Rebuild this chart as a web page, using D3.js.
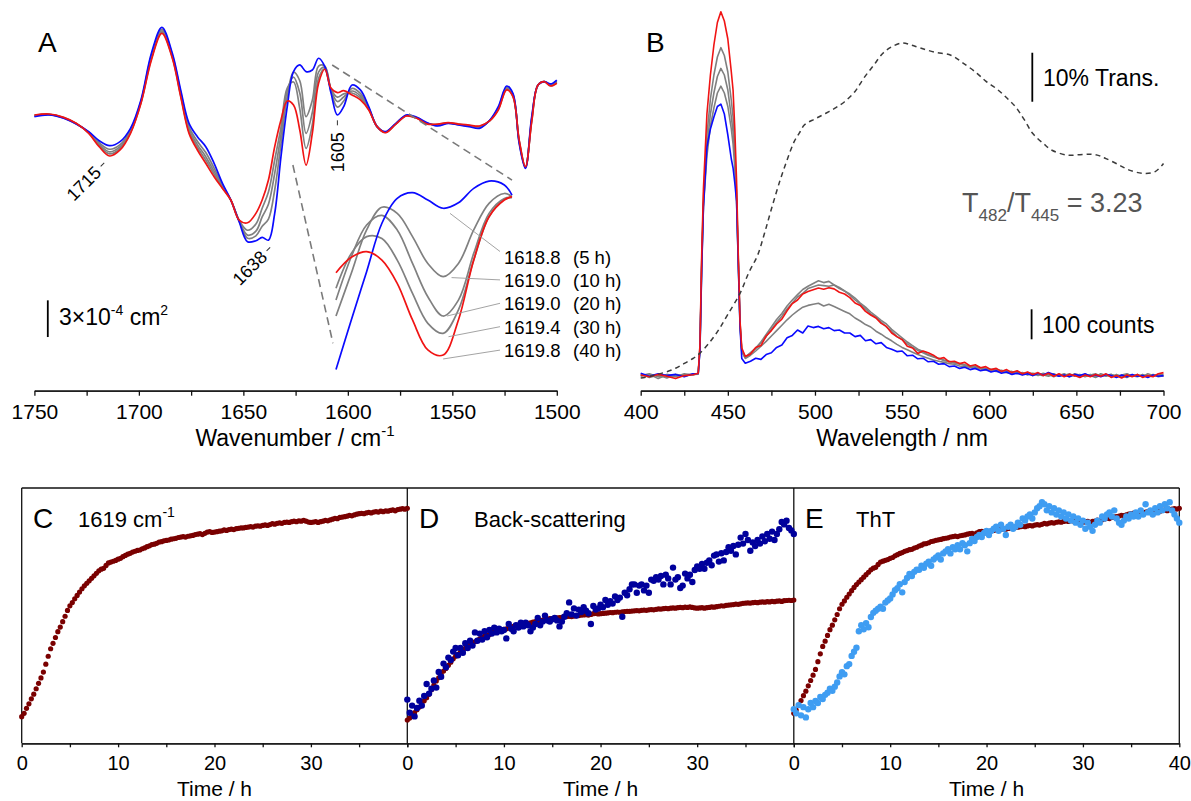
<!DOCTYPE html>
<html>
<head>
<meta charset="utf-8">
<script src="https://cdn.jsdelivr.net/npm/d3@7"></script>
<style>
  body { margin: 0; background: #fff; }
  svg { font-family: "Liberation Sans", Arial, sans-serif; }
</style>
</head>
<body>
<svg id="fig" width="1191" height="801"></svg>
<script>
// ---------- panel A : IR difference spectra (units of 1e-5 cm^2) ----------
const wnA = [1750,1743,1736,1730,1724,1719,1714,1709,1704,1699,1694,1689,1684,1680,1676,1672,1668,1664,1660,1656,
  1652,1648,1644,1641,1638,1635,1632,1629,1626,1623,1620,1617,1614,1611,1608,1605,1602,1598,1594,1590,
  1586,1582,1577,1572,1567,1562,1557,1552,1547,1542,1537,1532,1528,1524,1521,1518,1515,1512,1509,1506,1503,1500];
const abs5h = [-1.4,0,-2.7,-7.4,-13.6,-21.0,-25.1,-21.8,-10.9,12.3, 50.5,71.7,50.5,20.5,-6.8,-17.7,-25.9,-39.5,-55.9,-69.5,
  -87.3,-103.6,-102.8,-100.1,-102.3,-80.4,-34.1,6.8,35.5,40.9, 35.5,36.8,46.4,39.5,17.7,0,6.8,24.5,20.5,6.8,
  -9.5,-13.6,-6.8,0,-1.9,-6.3,-9.0,-6.8,-8.2,-9.5, -10.9,-4.1,6.8,23.7,17.7,-23.2,-43.6,-1.4,24.5,27.3, 25.4,28.6];
const abs10h = [-0.9,0.3,-2.4,-7.2,-14.1,-22.7,-28.0,-24.2,-12.3,11.3, 48.6,70.0,49.1,18.6,-9.7,-21.5,-30.7,-43.4,-57.3,-69.5,
  -86.8,-100.8,-98.8,-90.9,-85.1,-61.3,-23.6,15,35,28, -1.4,12,40,40,19.1,6.4,11.4,21.7,17.6,5.9,
  -9.5,-13.9,-7.0,-0.3,-2.2,-6.7,-8.4,-6.6,-7.9,-9.0, -10.2,-4.3,5.9,22.6,16.8,-22.3,-43.1,-2.8,24.5,27.3, 24.8,27.7];
const abs20h = [-0.6,0.5,-2.2,-7.0,-14.4,-23.9,-30.1,-25.9,-13.4,10.6, 47.2,68.8,48.0,17.2,-11.7,-24.2,-34.1,-46.1,-58.4,-69.5,
  -86.5,-98.2,-95.0,-83.3,-72.9,-47.7,-16.1,20,31,18, -15.0,2,35,39,20.2,11.0,14.7,19.6,15.6,5.2,
  -9.5,-14.1,-7.2,-0.5,-2.4,-7.0,-8.0,-6.5,-7.7,-8.7, -10.0,-4.4,5.2,21.8,16.1,-21.6,-42.8,-3.9,24.5,27.3, 24.4,27.0];
const abs30h = [-0.3,0.6,-2.1,-6.9,-14.7,-24.9,-31.8,-27.2,-14.2,10.1, 46.1,67.8,47.2,16.1,-13.4,-26.4,-36.8,-48.3,-59.2,-69.5,
  -86.2,-94.2,-89.1,-76.2,-63.0,-36.8,-10.1,22,27,5, -27.3,-8,30,38,21.0,14.6,17.3,18.0,13.9,4.6,
  -9.5,-14.3,-7.3,-0.6,-2.5,-7.2,-7.7,-6.4,-7.6,-8.5, -9.4,-4.5,4.6,21.1,15.5,-21.0,-42.6,-4.7,24.5,27.3, 24.0,26.4];
const abs40h = [0,0.8,-1.9,-6.8,-15.0,-25.9,-33.5,-28.6,-15.0,9.5, 45.0,66.8,46.4,15.0,-15.0,-28.6,-39.5,-50.5,-60.0,-69.5,
  -85.9,-88.1,-80.4,-69.5,-53.2,-25.9,-4.1,11.5,8.2,-12.3, -40.9,-15.0,25.9,37.4,21.8,18.3,19.9,16.4,12.3,4.1,
  -9.5,-14.5,-7.4,-0.8,-2.7,-7.4,-7.4,-6.3,-7.4,-8.2, -9.0,-4.6,4.1,20.5,15.0,-20.5,-42.3,-5.5,24.5,27.3, 23.7,25.9];

// inset (magnified 1633-1610 cm-1)
const wnInset = [1633,1631,1629,1627,1625,1623,1621,1619,1617,1615,1613,1611,1610];
const inset5h  = [-46.3,-21.2,3.3,27.9,40.5,43.4,39.7,35.5,38.3,45.6,49.3,47.3,42.2];
const inset10h = [-19.2,2.5,24.5,36.0,32.9,21.1,7.5,0.8,7.5,24.5,38.0,43.0,41.4];
const inset20h = [-11.1,10.9,27.0,31.9,24.5,7.5,-9.4,-19.2,-11.1,12.6,32.9,40.5,41.0];
const inset30h = [-5.1,12.6,21.1,20.2,9.2,-7.7,-22.9,-28.0,-16.1,9.2,31.2,40.0,41.0];
const inset40h = [2.8,10.6,13.5,9.2,-2.6,-21.2,-36.4,-39.0,-21.2,9.2,31.2,39.7,41.4];
const insetPeaks = ["1618.8", "1619.0", "1619.0", "1619.4", "1619.8"];
const insetTimes = ["(5 h)", "(10 h)", "(20 h)", "(30 h)", "(40 h)"];
const leaderWn = [1618.1, 1617.9, 1618.5, 1618.3, 1619.0];
const leaderVal = [32.9, 0.3, -19.2, -29.7, -41.0];
const bandLabels = ["1715", "1638", "1605"];
const bandWn = [1717.6, 1638.2, 1605.0];
const bandVal = [-40.9, -109.9, -6.8];
const bandAngle = [-45, -45, -90];
const ticksA = [1750, 1700, 1650, 1600, 1550, 1500];
const minorA = [1725, 1675, 1625, 1575, 1525];

// ---------- panel B : emission (counts) and transmittance (%) ----------
const wlEm = [400,405,410,415,420,425,430,433,434,435,436,438,440,442,444,446,448,450,452,453,454,455,456,457,458,460,
  463,466,469,472,475,478,481,484,487,490,493,496,499,502,505,508,511,514,517,520,523,526,529,532,535,538,541,544,547,550,
  553,556,559,562,565,568,571,574,577,580,583,586,589,592,595,598,601,604,607,610,613,616,619,622,625,628,631,634,637,640,
  643,646,649,652,655,658,661,664,667,670,673,676,679,682,685,688,691,694,697,700];
const em5h = [6,-4,4,-2,2,-6,4, 5,80,350,560,760,820,860,895,903,870,800,720,690,640,580,370,160,55,39,
  46,56,52,68,74,92,100,124,132,150, 140,163,158,162,154,158,148,150,140,140, 128,132,114,118,104,108,92,86,78,80,
  64,66,54,56,44,46,36,38,28,30, 22,26,18,22,14,18,10,14,6,10, 2,6,0,4,-2,6,0,8,2,-4,
  0,-6,2,-2,4,-4,0,-6,2,-2, -8,0,-6,2,-4,-2,-8,0,-4,-2];
const em10h = [-2,4,-6,2,-4,0,3, 4,95,380,590,800,920,1000,1060,1091,1065,1010,915,860,750,610,390,175,85,60,
  75,90,110,135,160,185,205,230,250,268, 285,296,305,314,308,312,300,292,280,266, 250,236,220,204,192,176,160,146,128,118,
  104,92,82,74,66,60,54,50,44,42, 36,34,28,30,24,22,18,20,12,14, 6,12,2,8,4,-2,6,0,4,-4,
  2,-6,4,0,-4,2,-6,4,-2,2, -6,0,4,-4,2,-6,4,-2,0,2];
const em20h = [3,-8,0,-10,2,-3,2, 3,90,370,570,760,870,940,995,1022,1000,950,860,810,720,600,380,170,80,58,
  72,88,108,128,152,175,196,220,240,260, 272,288,294,300,298,296,300,288,280,270, 256,240,226,210,196,182,170,152,138,124,
  110,98,86,78,68,62,56,48,46,40, 38,32,30,26,24,20,18,14,16,10, 12,4,8,0,6,2,-2,4,-6,2,
  -2,4,-4,2,-6,0,4,-4,0,-6, 2,-4,-8,0,-4,2,-6,0,-2,-4];
const em30h = [-4,2,-12,0,-6,4,0, 5,85,360,560,730,830,890,940,963,940,895,820,770,690,580,375,165,78,55,
  66,80,96,112,130,148,166,184,200,214, 226,232,236,239,230,236,228,220,212,204, 190,180,168,160,146,136,124,114,102,92,
  84,76,68,62,56,50,46,42,38,36, 30,28,26,22,20,16,14,12,10,8, 4,10,2,6,-2,4,0,-4,2,-2,
  4,-4,0,-6,2,-2,-8,0,-4,2, -4,-6,2,-2,-6,0,-4,2,-6,-2];
const em40h = [0,-6,2,-4,-12,-2,1, 6,100,400,620,870,1000,1100,1175,1211,1180,1120,1010,950,820,650,400,180,90,62,
  70,92,98,130,148,170,186,214,238,250, 270,278,284,290,286,291,287,276,270,258, 240,232,212,200,190,172,162,140,128,118,
  96,90,72,80,74,66,54,58,44,46, 38,42,30,34,24,28,18,22,12,18, 8,14,4,10,2,8,-2,6,-4,4,
  -6,2,-2,-8,0,-6,2,-4,4,-8, -2,-10,0,-6,2,-8,-2,-6,4,8];
const wlTrans = [400,405,410,415,420,425,430,434,440,445,450,457,462,467,471,475,480,484,488,491,
  494,500,506,512,517,523,528,534,539,544,550,555,561,569,578,585,593,598,604,610,
  615,620,625,631,636,645,652,658,663,667,674,680,688,695,700];
const transPct = [4.0,4.3,4.8,5.3,6.0,7.0,8.0,9.1,11.5,14.0,17.0,21.3,25.5,29.0,33.5,38.5,44.4,48.5,52.2,54.0,
  55.7,56.9,58.0,59.2,60.4,62.5,65.2,68.0,70.3,71.6,72.4,72.0,71.3,70.5,69.9,68.3,66.2,64.6,63.1,61.2,
  59.4,56.8,53.9,51.9,50.5,49.5,49.6,49.7,49.4,48.8,47.6,46.5,45.8,46.1,47.8];
const ticksB = [400, 450, 500, 550, 600, 650, 700];
const minorB = [425, 475, 525, 575, 625, 675];

// ---------- panels C-E : kinetics, one point every 0.25 h from 0 to 40 h ----------
const kinStep = 0.25;
const kin1619 = [0.000,0.016,0.040,0.062,0.086,0.108,0.134,0.160,0.186,0.214,
  0.252,0.290,0.326,0.352,0.380,0.408,0.430,0.456,0.482,0.510,
  0.532,0.548,0.566,0.582,0.598,0.614,0.628,0.640,0.652,0.664,
  0.676,0.688,0.700,0.708,0.712,0.726,0.738,0.742,0.746,0.750,
  0.756,0.760,0.768,0.774,0.780,0.784,0.790,0.794,0.798,0.800,
  0.806,0.810,0.816,0.820,0.826,0.828,0.832,0.838,0.840,0.844,
  0.846,0.848,0.852,0.854,0.856,0.860,0.862,0.864,0.862,0.866,
  0.868,0.870,0.874,0.876,0.878,0.874,0.880,0.886,0.888,0.884,
  0.886,0.888,0.890,0.892,0.896,0.894,0.898,0.900,0.898,0.902,
  0.904,0.906,0.906,0.908,0.910,0.912,0.910,0.914,0.916,0.914,
  0.918,0.920,0.918,0.922,0.926,0.924,0.928,0.930,0.928,0.932,
  0.934,0.932,0.936,0.938,0.936,0.940,0.938,0.942,0.938,0.934,
  0.932,0.934,0.936,0.932,0.936,0.938,0.942,0.940,0.944,0.948,
  0.952,0.950,0.956,0.958,0.960,0.962,0.966,0.964,0.968,0.972,
  0.974,0.976,0.974,0.978,0.980,0.978,0.982,0.984,0.982,0.986,
  0.984,0.988,0.986,0.990,0.992,0.988,0.994,0.996,0.998,0.996,
  1.000];
const backScatter = [0.17,0.06,0.12,0.03,0.10,0.16,0.12,0.20,0.30,0.22,
  0.26,0.33,0.27,0.40,0.36,0.47,0.44,0.52,0.50,0.57,
  0.60,0.54,0.60,0.56,0.64,0.60,0.66,0.62,0.73,0.66,
  0.72,0.67,0.74,0.69,0.75,0.72,0.77,0.73,0.76,0.74,
  0.75,0.68,0.80,0.76,0.74,0.79,0.77,0.81,0.78,0.81,
  0.79,0.74,0.77,0.80,0.85,0.79,0.82,0.87,0.83,0.82,
  0.84,0.85,0.83,0.78,0.82,0.86,0.89,0.98,0.88,0.93,
  0.87,0.92,0.90,0.94,0.91,0.89,0.80,0.95,0.92,0.93,
  0.96,0.94,1.00,0.96,0.99,0.97,1.03,1.00,1.02,0.86,
  1.06,1.04,1.09,1.13,1.13,1.06,1.12,1.13,1.08,1.12,
  1.06,1.17,1.16,1.19,1.17,1.20,1.13,1.21,1.18,1.13,
  1.27,1.17,1.19,1.10,1.12,1.22,1.18,1.21,1.15,1.25,
  1.28,1.26,1.30,1.26,1.31,1.33,1.29,1.37,1.38,1.32,
  1.39,1.33,1.40,1.44,1.41,1.45,1.38,1.46,1.52,1.47,
  1.55,1.50,1.41,1.48,1.45,1.50,1.47,1.53,1.49,1.55,
  1.51,1.57,1.50,1.55,1.59,1.65,1.63,1.66,1.60,1.58,
  1.55];
const thtData = [0.02,0.00,0.04,-0.01,0.03,-0.02,0.02,0.05,0.03,0.06,
  0.05,0.08,0.07,0.09,0.10,0.12,0.11,0.13,0.15,0.18,
  0.20,0.19,0.23,0.24,0.28,0.30,0.32,0.40,0.43,0.41,
  0.44,0.42,0.47,0.49,0.50,0.51,0.52,0.51,0.54,0.55,
  0.56,0.58,0.60,0.61,0.63,0.59,0.64,0.66,0.68,0.67,
  0.69,0.70,0.70,0.72,0.71,0.73,0.74,0.72,0.75,0.76,
  0.77,0.75,0.78,0.79,0.80,0.78,0.81,0.80,0.82,0.80,
  0.83,0.82,0.79,0.83,0.85,0.84,0.86,0.87,0.86,0.88,
  0.89,0.87,0.89,0.90,0.91,0.89,0.92,0.90,0.87,0.91,
  0.92,0.90,0.91,0.93,0.92,0.95,0.94,0.96,0.97,0.95,
  0.98,1.00,1.01,1.03,1.02,0.99,1.01,0.98,1.00,0.97,
  0.99,0.96,0.98,0.95,0.97,0.94,0.96,0.93,0.95,0.92,
  0.94,0.90,0.93,0.91,0.89,0.92,0.94,0.93,0.96,0.95,
  0.97,0.98,0.96,0.99,0.95,0.93,0.92,0.94,0.96,0.95,
  0.97,0.96,0.98,0.96,0.99,0.97,1.02,0.98,0.99,0.97,
  1.00,0.98,1.01,0.99,1.02,1.00,1.03,0.99,0.97,0.95,
  0.93];
const timeTicks = [0, 10, 20, 30, 40];
const timeMinor = [5, 15, 25, 35];

// ---------- drawing ----------
const svg = d3.select("#fig");
const BLUE = "#0a0aff", RED = "#f01414", GRAY = "#808080";
const DARKRED = "#7a0000", NAVY = "#00009c", SKY = "#3f9df2";

function axisAt(scale, y, major, minor, tick, pad, size, labels) {
  svg.append("g").attr("transform", `translate(0,${y})`)
    .call(d3.axisBottom(scale).tickValues(minor).tickSize(tick).tickSizeOuter(0).tickFormat(""));
  const g = svg.append("g").attr("transform", `translate(0,${y})`)
    .call(d3.axisBottom(scale).tickValues(major).tickSize(tick).tickSizeOuter(0).tickPadding(pad)
      .tickFormat(d => labels.includes(d) ? d : ""));
  svg.selectAll("g .domain, g .tick line").attr("stroke", "#111").attr("stroke-width", 1.3);
  g.selectAll("text").attr("font-size", size).attr("font-family", "Liberation Sans, Arial, sans-serif").attr("fill", "#000");
}

// ---- panel A
const xA = d3.scaleLinear().domain([1750, 1500]).range([34.4, 556.8]);
const yA = d3.scaleLinear().domain([0, 30]).range([115, 78.3]);
const lineA = d3.line().x((d, i) => xA(wnA[i])).y(d => yA(d)).curve(d3.curveCatmullRom.alpha(0.5));
[[abs10h, GRAY], [abs20h, GRAY], [abs30h, GRAY], [abs5h, BLUE], [abs40h, RED]].forEach(([s, c]) => {
  svg.append("path").attr("d", lineA(s)).attr("fill", "none").attr("stroke", c).attr("stroke-width", 1.7);
});

const xIn = d3.scaleLinear().domain([1633, 1610]).range([336, 512]);
const yIn = d3.scaleLinear().domain([0, 10]).range([278.2, 258.5]);
const lineIn = d3.line().x((d, i) => xIn(wnInset[i])).y(d => yIn(d)).curve(d3.curveCatmullRom.alpha(0.5));
[[inset10h, GRAY], [inset20h, GRAY], [inset30h, GRAY], [inset5h, BLUE], [inset40h, RED]].forEach(([s, c]) => {
  svg.append("path").attr("d", lineIn(s)).attr("fill", "none").attr("stroke", c).attr("stroke-width", 1.7);
});

// zoom guide lines
svg.append("line").attr("x1", xA(1607.5)).attr("y1", yA(40.9)).attr("x2", xIn(1610)).attr("y2", yIn(49.8))
  .attr("stroke", "#7a7a7a").attr("stroke-width", 1.6).attr("stroke-dasharray", "8,5");
svg.append("line").attr("x1", xA(1626.3)).attr("y1", yA(-40.9)).attr("x2", xIn(1633.4)).attr("y2", yIn(-33))
  .attr("stroke", "#7a7a7a").attr("stroke-width", 1.6).attr("stroke-dasharray", "8,5");

// inset legend
insetPeaks.forEach((p, i) => {
  const yb = 263.5 + i * 23.4;
  svg.append("line").attr("x1", xIn(leaderWn[i])).attr("y1", yIn(leaderVal[i]))
    .attr("x2", 500).attr("y2", yb - (i === 0 ? 12 : 7)).attr("stroke", "#999").attr("stroke-width", 0.9);
  svg.append("text").attr("x", 504).attr("y", yb).attr("font-size", 18.5).text(p);
  svg.append("text").attr("x", 573).attr("y", yb).attr("font-size", 18.5).text(insetTimes[i]);
});

// band labels
bandLabels.forEach((b, i) => {
  const g = svg.append("g").attr("transform", `translate(${xA(bandWn[i])},${yA(bandVal[i])}) rotate(${bandAngle[i]})`);
  g.append("line").attr("x1", -2).attr("x2", 3).attr("y1", 0).attr("y2", 0).attr("stroke", "#333").attr("stroke-width", 1);
  g.append("text").attr("x", i === 2 ? -9 : -6).attr("dy", "0.35em").attr("text-anchor", "end").attr("font-size", 18).text(b);
});

// scale bar A
svg.append("line").attr("x1", 47.8).attr("x2", 47.8).attr("y1", yA(-151.5)).attr("y2", yA(-181.5))
  .attr("stroke", "#000").attr("stroke-width", 1.8);
const sbA = svg.append("text").attr("x", 59).attr("y", 325).attr("font-size", 23);
sbA.append("tspan").text("3×10");
sbA.append("tspan").attr("dy", -10).attr("font-size", 14).text("-4");
sbA.append("tspan").attr("dy", 10).text(" cm");
sbA.append("tspan").attr("dy", -10).attr("font-size", 14).text("2");

svg.append("text").attr("x", 38).attr("y", 51.7).attr("font-size", 28).text("A");
axisAt(xA, 390.7, ticksA, minorA, 5, 8, 21, ticksA);
const labA = svg.append("text").attr("x", 295).attr("y", 446).attr("text-anchor", "middle").attr("font-size", 23);
labA.append("tspan").text("Wavenumber / cm");
labA.append("tspan").attr("dy", -10).attr("font-size", 15).text("-1");

// ---- panel B
const xB = d3.scaleLinear().domain([400, 700]).range([640.7, 1163.5]);
const yCnt = d3.scaleLinear().domain([0, 100]).range([375, 345]);
const yTr = d3.scaleLinear().domain([0, 10]).range([397.7, 348.7]);
const lineEm = d3.line().x((d, i) => xB(wlEm[i])).y(d => yCnt(d));
const lineTr = d3.line().x((d, i) => xB(wlTrans[i])).y(d => yTr(d)).curve(d3.curveCatmullRom.alpha(0.5));
[[em10h, GRAY], [em20h, GRAY], [em30h, GRAY], [em5h, BLUE], [em40h, RED]].forEach(([s, c]) => {
  svg.append("path").attr("d", lineEm(s)).attr("fill", "none").attr("stroke", c)
    .attr("stroke-width", 1.6).attr("stroke-linejoin", "round");
});
svg.append("path").attr("d", lineTr(transPct)).attr("fill", "none").attr("stroke", "#3a3a3a")
  .attr("stroke-width", 1.5).attr("stroke-dasharray", "5,4");

svg.append("text").attr("x", 646).attr("y", 51.7).attr("font-size", 28).text("B");
svg.append("line").attr("x1", 1032.3).attr("x2", 1032.3).attr("y1", yTr(70.4)).attr("y2", yTr(60.4))
  .attr("stroke", "#000").attr("stroke-width", 1.8);
svg.append("text").attr("x", 1043).attr("y", 86).attr("font-size", 23).text("10% Trans.");
svg.append("line").attr("x1", 1031.6).attr("x2", 1031.6).attr("y1", yCnt(219)).attr("y2", yCnt(119))
  .attr("stroke", "#000").attr("stroke-width", 1.8);
svg.append("text").attr("x", 1042).attr("y", 333).attr("font-size", 23).text("100 counts");
const ratio = svg.append("text").attr("x", 962).attr("y", 212).attr("font-size", 27).attr("fill", "#555");
ratio.append("tspan").text("T");
ratio.append("tspan").attr("dy", 9).attr("font-size", 17).text("482");
ratio.append("tspan").attr("dy", -9).text("/T");
ratio.append("tspan").attr("dy", 9).attr("font-size", 17).text("445");
ratio.append("tspan").attr("dy", -9).text(" = 3.23");

axisAt(xB, 390.7, ticksB, minorB, 5, 8, 21, ticksB);
svg.append("text").attr("x", 902).attr("y", 446).attr("text-anchor", "middle").attr("font-size", 23).text("Wavelength / nm");

// ---- panels C, D, E
const panels = [
  { x0: 21.7, x1: 407.3, y0: 716.7, y1: 508.3, letter: "C", lx: 33, labels: [0, 10, 20, 30] },
  { x0: 407.3, x1: 793.8, y0: 720, y1: 600, letter: "D", lx: 419, labels: [0, 10, 20, 30] },
  { x0: 793.8, x1: 1179.3, y0: 713.3, y1: 508.3, letter: "E", lx: 805, labels: [0, 10, 20, 30, 40] }
];
const frameTop = 488, frameBottom = 743.3;
svg.append("line").attr("x1", 21.7).attr("x2", 1179.3).attr("y1", frameTop).attr("y2", frameTop)
  .attr("stroke", "#111").attr("stroke-width", 1.3);
[21.7, 407.3, 793.8, 1179.3].forEach(x => {
  svg.append("line").attr("x1", x).attr("x2", x).attr("y1", frameTop).attr("y2", frameBottom)
    .attr("stroke", "#111").attr("stroke-width", 1.3);
});

panels.forEach((p, k) => {
  const x = d3.scaleLinear().domain([0, 40]).range([p.x0, p.x1]);
  const y = d3.scaleLinear().domain([0, 1]).range([p.y0, p.y1]);
  axisAt(x, frameBottom, timeTicks, timeMinor, 4, 9, 20, p.labels);
  svg.append("text").attr("x", (p.x0 + p.x1) / 2).attr("y", 796).attr("text-anchor", "middle")
    .attr("font-size", 21).text("Time / h");
  svg.append("text").attr("x", p.lx).attr("y", 528.3).attr("font-size", 28).text(p.letter);

  svg.append("g").selectAll("circle").data(kin1619).join("circle")
    .attr("cx", (d, i) => x(i * kinStep)).attr("cy", d => y(d)).attr("r", 2.6).attr("fill", DARKRED);
  if (k === 1) {
    svg.append("g").selectAll("circle").data(backScatter).join("circle")
      .attr("cx", (d, i) => x(i * kinStep)).attr("cy", d => y(d)).attr("r", 3.2).attr("fill", NAVY);
  }
  if (k === 2) {
    svg.append("g").selectAll("circle").data(thtData).join("circle")
      .attr("cx", (d, i) => x(i * kinStep)).attr("cy", d => y(d)).attr("r", 3.2).attr("fill", SKY);
  }
});

const tC = svg.append("text").attr("x", 78).attr("y", 526.7).attr("font-size", 22);
tC.append("tspan").text("1619 cm");
tC.append("tspan").attr("dy", -10).attr("font-size", 14).text("-1");
svg.append("text").attr("x", 474).attr("y", 526.7).attr("font-size", 22).text("Back-scattering");
svg.append("text").attr("x", 856).attr("y", 526.7).attr("font-size", 22).text("ThT");
</script>
</body>
</html>
